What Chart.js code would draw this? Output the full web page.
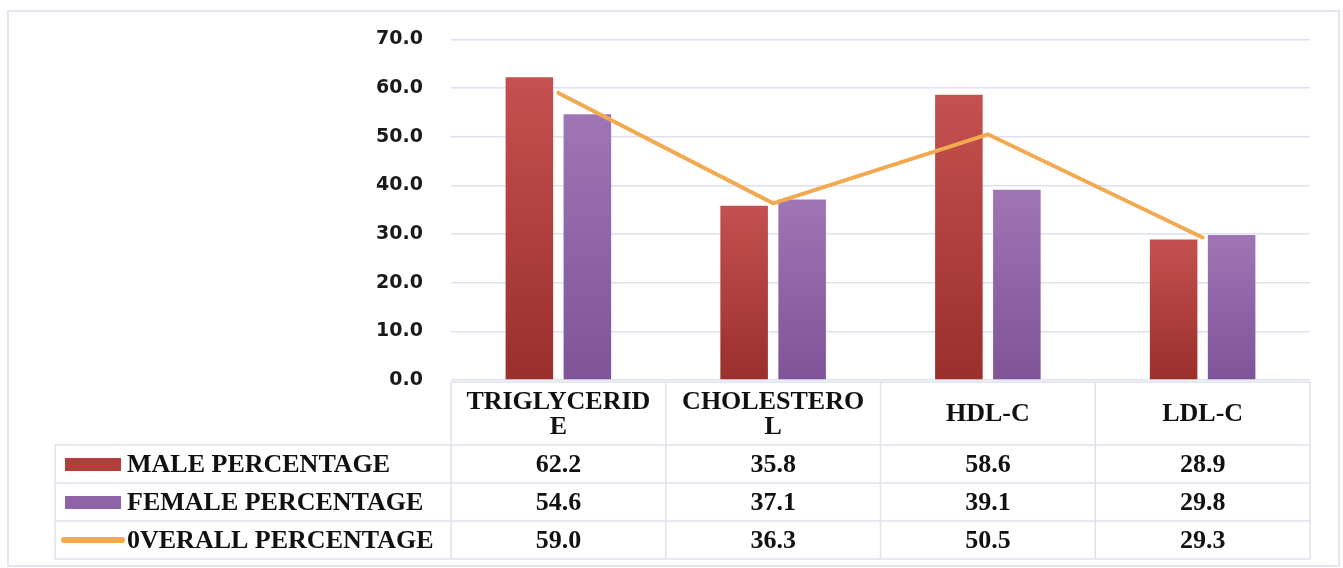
<!DOCTYPE html>
<html>
<head>
<meta charset="utf-8">
<script src="https://cdn.jsdelivr.net/npm/chart.js@4.4.1/dist/chart.umd.min.js"></script>
<style>
  html, body { margin: 0; padding: 0; background: #fff; }
  #wrap { width: 1343px; height: 568px; position: relative; }
</style>
</head>
<body>
<div id="wrap"><canvas id="grafica"></canvas></div>
<script>
// categorias (ya partidas en lineas como en la tabla original)
const categories = [["TRIGLYCERID", "E"], ["CHOLESTERO", "L"], ["HDL-C"], ["LDL-C"]];
const seriesNames = ["MALE PERCENTAGE", "FEMALE PERCENTAGE", "0VERALL PERCENTAGE"];
const malePct = [62.2, 35.8, 58.6, 28.9];
const femalePct = [54.6, 37.1, 39.1, 29.8];
const overallPct = [59.0, 36.3, 50.5, 29.3];
const yMin = 0;
const yMax = 70;
const yStep = 10;

const gridColor = "#DFE2EE";
const serif = "'Liberation Serif', 'Times New Roman', serif";

// degradado por barra (arriba claro, abajo oscuro)
function barGradient(top, bottom) {
  return function (ctx) {
    const chart = ctx.chart;
    const area = chart.chartArea;
    if (!area || ctx.raw == null) return top;
    const y = chart.scales.y.getPixelForValue(ctx.raw);
    const g = chart.ctx.createLinearGradient(0, y, 0, area.bottom);
    g.addColorStop(0, top);
    g.addColorStop(1, bottom);
    return g;
  };
}

// tabla de datos debajo del grafico + marco exterior
const dataTable = {
  id: "dataTable",
  beforeDraw(chart) {
    const c = chart.ctx;
    c.save();
    c.fillStyle = "#fff";
    c.fillRect(0, 0, chart.width, chart.height);
    c.strokeStyle = "#E3E5F0";
    c.lineWidth = 2;
    c.strokeRect(8, 11, 1331, 555);
    c.restore();
  },
  afterDraw(chart) {
    const c = chart.ctx;
    const area = chart.chartArea;
    const x = chart.scales.x;
    const n = categories.length;
    const w = (area.right - area.left) / n;
    const legendLeft = 55;
    const headTop = area.bottom + 2;
    const headH = 63;
    const rowH = 38;
    const rowsTop = headTop + headH;
    const bottom = rowsTop + rowH * 3;

    c.save();
    c.strokeStyle = gridColor;
    c.lineWidth = 1.5;
    c.beginPath();
    // linea superior del encabezado
    c.moveTo(area.left, headTop);
    c.lineTo(area.right, headTop);
    // lineas horizontales de filas
    for (let r = 0; r <= 3; r++) {
      const yy = rowsTop + r * rowH;
      c.moveTo(legendLeft, yy);
      c.lineTo(area.right, yy);
    }
    // verticales
    for (let i = 0; i <= n; i++) {
      const xx = area.left + i * w;
      c.moveTo(xx, headTop);
      c.lineTo(xx, bottom);
    }
    c.moveTo(legendLeft, rowsTop);
    c.lineTo(legendLeft, bottom);
    c.stroke();

    c.fillStyle = "#111";
    c.font = "bold 26px " + serif;
    c.textAlign = "center";
    c.textBaseline = "middle";

    // encabezados
    categories.forEach((lines, i) => {
      const cx = x.getPixelForValue(i);
      const lh = 25;
      const start = headTop + headH / 2 - ((lines.length - 1) * lh) / 2;
      lines.forEach((t, k) => c.fillText(t, cx, start + k * lh + 1));
    });

    // valores y leyenda
    chart.data.datasets.forEach((ds, r) => {
      const cy = rowsTop + r * rowH + rowH / 2 + 1;
      ds.data.forEach((v, i) => {
        c.textAlign = "center";
        c.fillText(v.toFixed(1), x.getPixelForValue(i), cy);
      });
      // simbolo
      if (ds.type === "line") {
        c.strokeStyle = ds.borderColor;
        c.lineWidth = 6;
        c.lineCap = "round";
        c.beginPath();
        c.moveTo(64, cy - 1);
        c.lineTo(122, cy - 1);
        c.stroke();
      } else {
        c.fillStyle = ds.swatch;
        c.fillRect(65, cy - 7, 56, 13);
        c.fillStyle = "#111";
      }
      c.textAlign = "left";
      c.fillText(seriesNames[r], 127, cy);
    });
    c.restore();
  },
};

const ctx = document.getElementById("grafica");

new Chart(ctx, {
  type: "bar",
  data: {
    labels: categories,
    datasets: [
      {
        label: seriesNames[0],
        data: malePct,
        backgroundColor: barGradient("#C4514F", "#9A2F2C"),
        swatch: "#B23E3B",
        categoryPercentage: 0.54,
        barPercentage: 0.82,
        order: 2,
      },
      {
        label: seriesNames[1],
        data: femalePct,
        backgroundColor: barGradient("#A075B5", "#7E5398"),
        swatch: "#8F63A8",
        categoryPercentage: 0.54,
        barPercentage: 0.82,
        order: 2,
      },
      {
        type: "line",
        label: seriesNames[2],
        data: overallPct,
        borderColor: "#F3A94F",
        backgroundColor: "#F3A94F",
        borderWidth: 4,
        pointRadius: 0,
        tension: 0,
        borderCapStyle: "round",
        order: 1,
      },
    ],
  },
  options: {
    responsive: true,
    maintainAspectRatio: false,
    animation: false,
    layout: { padding: { left: 0, right: 33, top: 39, bottom: 188 } },
    plugins: {
      legend: { display: false },
      tooltip: { enabled: false },
    },
    scales: {
      x: { display: false },
      y: {
        min: yMin,
        max: yMax,
        afterFit: (s) => { s.width = 451; },
        border: { display: false },
        grid: { color: gridColor, lineWidth: 1.5, drawTicks: false },
        ticks: {
          stepSize: yStep,
          padding: 28,
          color: "#1a1a1a",
          font: { family: "'DejaVu Sans', sans-serif", weight: "bold", size: 19 },
          callback: (v) => v.toFixed(1),
        },
      },
    },
  },
  plugins: [dataTable],
});
</script>
</body>
</html>
